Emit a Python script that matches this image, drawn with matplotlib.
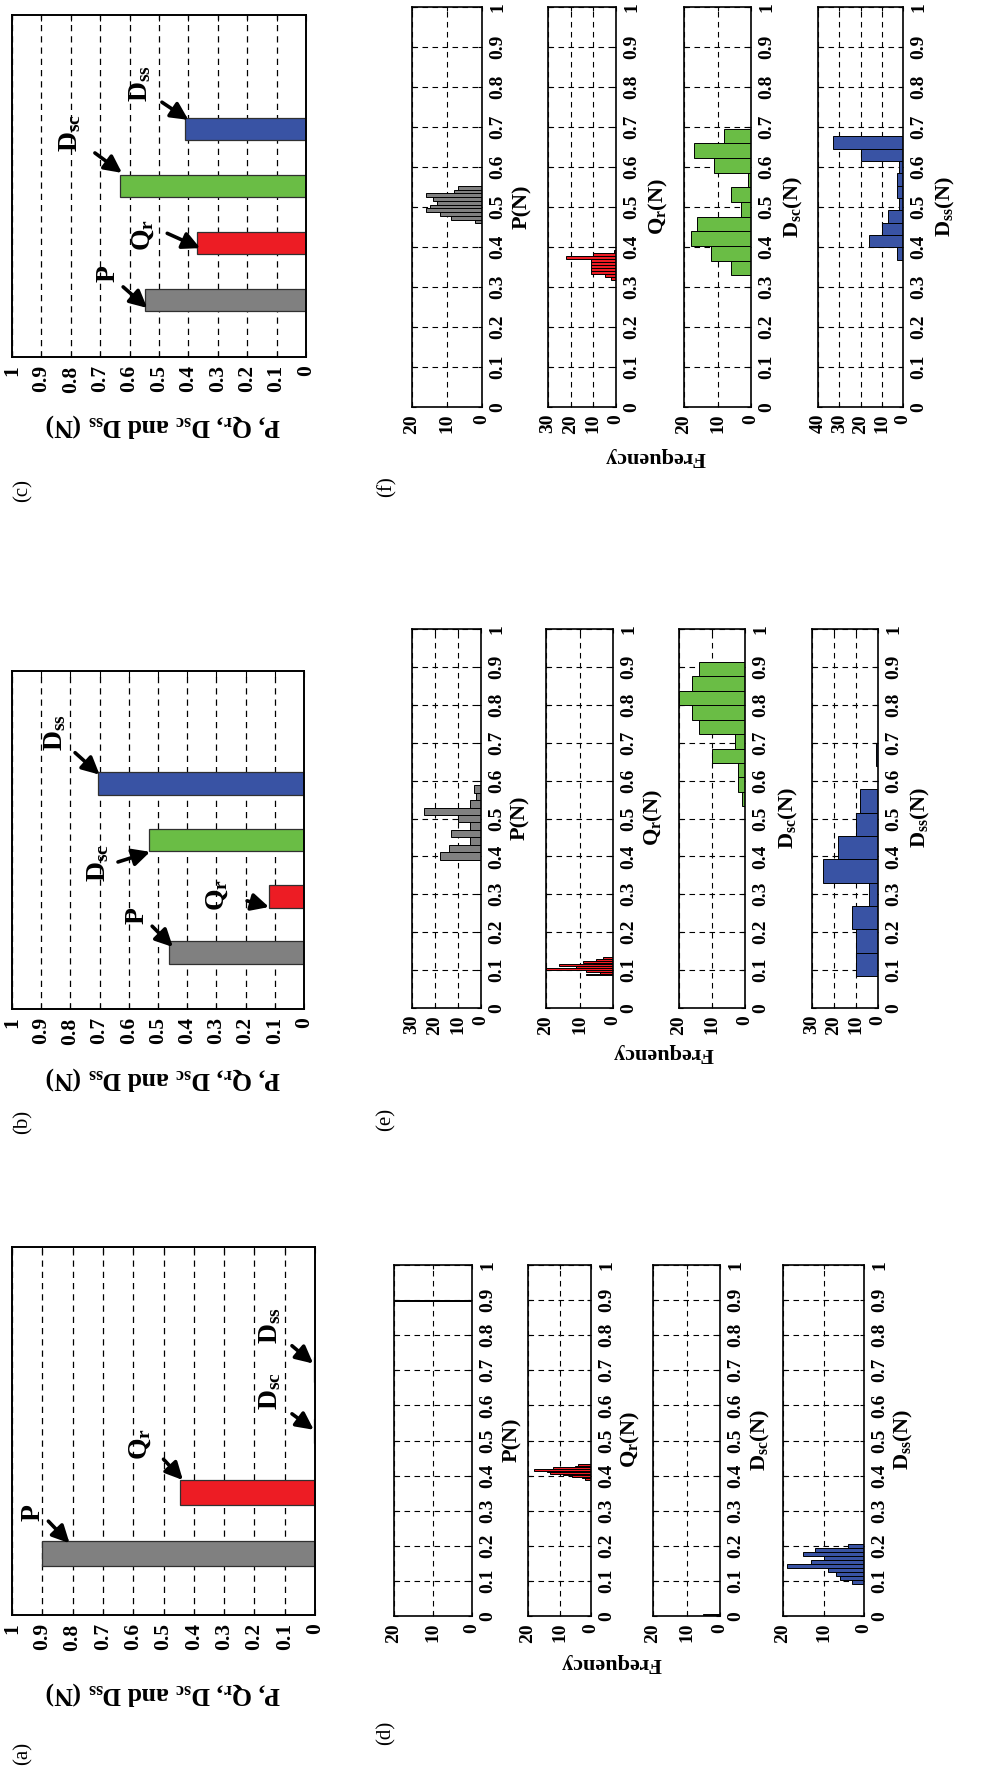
import numpy as np
import matplotlib
matplotlib.use("Agg")
import matplotlib.pyplot as plt

plt.rcParams['font.family'] = ['Liberation Serif', 'DejaVu Serif']
plt.rcParams['mathtext.fontset'] = 'custom'
plt.rcParams['mathtext.rm'] = 'Liberation Serif'
plt.rcParams['mathtext.bf'] = 'Liberation Serif:bold'
plt.rcParams['mathtext.it'] = 'Liberation Serif:italic'

# ============================================================
# Data
# ============================================================
categories = ['P', r'Q$_{\mathbf{r}}$', r'D$_{\mathbf{sc}}$', r'D$_{\mathbf{ss}}$']
cat_pos = [1, 2, 3, 4]
colors = ['#808080', '#ed1c24', '#6abd45', '#3953a4']

# mean forces (N) for panels (a), (b), (c)
forces_a = [0.90, 0.445, 0.003, 0.003]
forces_b = [0.462, 0.119, 0.532, 0.704]
forces_c = [0.546, 0.371, 0.632, 0.411]

# label anchors (value, category) for the arrows: text, tail, head
text_a = [(0.93, 1.67), (0.578, 2.79), (0.149, 3.66), (0.149, 4.72)]
tail_a = [(0.88, 1.53), (0.50, 2.54), (0.076, 3.28), (0.076, 4.39)]
head_a = [(0.81, 1.17), (0.436, 2.20), (0.004, 3.02), (0.006, 4.10)]

text_b = [(0.572, 1.66), (0.298, 2.02), (0.705, 2.60), (0.853, 4.90)]
tail_b = [(0.52, 1.47), (0.195, 1.92), (0.637, 2.61), (0.784, 4.55)]
head_b = [(0.449, 1.10), (0.12, 1.81), (0.527, 2.79), (0.70, 4.16)]

text_c = [(0.673, 1.47), (0.554, 2.14), (0.803, 3.93), (0.565, 4.80)]
tail_c = [(0.622, 1.23), (0.472, 2.17), (0.718, 3.58), (0.49, 4.47)]
head_c = [(0.54, 0.86), (0.36, 1.91), (0.626, 3.23), (0.40, 4.16)]

# histograms: bin range (lo, hi) and 10 bin counts
d_P_range, d_P_counts = (0.897, 0.901), [2, 5, 9, 14, 21, 18, 13, 9, 6, 3]
d_Qr_range, d_Qr_counts = (0.388, 0.432), [2, 3, 6, 9, 13, 14, 18, 12, 5, 4]
d_Dsc_range, d_Dsc_counts = (0.0, 0.006), [17, 4, 3, 2, 2, 3, 2, 5, 3, 2]
d_Dss_range, d_Dss_counts = (0.092, 0.205), [3, 6, 7, 9, 19, 13, 10, 15, 12, 4]

e_P_range, e_P_counts = (0.391, 0.588), [18, 14, 5, 13, 5, 10, 25, 5, 2, 3]
e_Qr_range, e_Qr_counts = (0.086, 0.134), [8, 4, 8, 20, 11, 16, 6, 9, 5, 3]
e_Dsc_range, e_Dsc_counts = (0.532, 0.913), [1, 2, 2, 10, 3, 14, 16, 20, 16, 14]
e_Dss_range, e_Dss_counts = (0.084, 0.700), [10, 10, 12, 4, 25, 18, 10, 8, 0, 1]

f_P_range, f_P_counts = (0.459, 0.553), [2, 9, 12, 16, 15, 13, 14, 16, 8, 7]
f_Qr_range, f_Qr_counts = (0.318, 0.392), [2, 5, 11, 11, 11, 11, 11, 22, 10, 1]
f_Dsc_range, f_Dsc_counts = (0.329, 0.696), [6, 12, 18, 16, 3, 6, 1, 11, 17, 8]
f_Dss_range, f_Dss_counts = (0.368, 0.677), [3, 16, 10, 7, 2, 3, 3, 2, 20, 33]

freq_max_d = [20, 20, 20, 20]
freq_max_e = [30, 20, 20, 30]
freq_max_f = [20, 30, 20, 40]

hist_labels = ['P(N)', r'Q$_{\mathbf{r}}$(N)', r'D$_{\mathbf{sc}}$(N)', r'D$_{\mathbf{ss}}$(N)']
value_label = r'P, Q$_{\mathbf{r}}$, D$_{\mathbf{sc}}$ and D$_{\mathbf{ss}}$ (N)'

# ============================================================
# Layout (the figure is a landscape plate turned a quarter turn)
# ============================================================
W, H = 985, 1782
fig = plt.figure(figsize=(W / 100, H / 100), dpi=100)


def add_ax(l, r, t, b):
    return fig.add_axes([l / W, 1 - b / H, (r - l) / W, (b - t) / H])


def ftext(x, y, s, **kw):
    fig.text(x / W, 1 - y / H, s, **kw)


ticks01 = np.round(np.arange(0, 1.01, 0.1), 1)
tick_lbls = ['%g' % t for t in ticks01]


def bar_panel(box, forces, texts, tails, heads):
    ax = add_ax(*box)
    ax.barh(cat_pos, forces, height=0.4, color=colors, edgecolor='#303030', lw=0.9, zorder=2)
    ax.set_xlim(1, 0)
    ax.set_ylim(0, 6)
    ax.set_yticks([])
    ax.set_xticks(ticks01)
    ax.set_xticklabels(tick_lbls, rotation=90, fontsize=15.5, fontweight='bold')
    ax.tick_params(axis='x', direction='in', top=True, length=4, pad=6)
    ax.grid(axis='x', ls=(0, (5, 4)), color='k', lw=0.9, zorder=0)
    ax.set_axisbelow(True)
    for sp in ax.spines.values():
        sp.set_linewidth(1.4)
    for lbl, t, tl, hd in zip(categories, texts, tails, heads):
        ax.text(t[0], t[1], lbl, rotation=90, ha='center', va='center',
                fontsize=20, fontweight='bold', zorder=4)
        ax.annotate('', xy=hd, xytext=tl,
                    arrowprops=dict(arrowstyle='-|>,head_length=0.8,head_width=0.4',
                                    color='k', lw=2.6, mutation_scale=13,
                                    shrinkA=0, shrinkB=0), zorder=5)
    return ax


def hist_ax(box, rng, counts, color, fmax):
    ax = add_ax(*box)
    edges = np.linspace(rng[0], rng[1], len(counts) + 1)
    centers = (edges[:-1] + edges[1:]) / 2
    ax.barh(centers, counts, height=edges[1] - edges[0], color=color,
            edgecolor='k', lw=0.7, zorder=2)
    ax.set_xlim(fmax, 0)
    ax.set_ylim(0, 1)
    ax.set_xticks(np.arange(0, fmax + 1, 10))
    ax.set_xticklabels(['%d' % v for v in np.arange(0, fmax + 1, 10)],
                       rotation=90, fontsize=14, fontweight='bold')
    ax.set_yticks(ticks01)
    ax.yaxis.tick_right()
    ax.set_yticklabels(tick_lbls, rotation=90, va='center', fontsize=14, fontweight='bold')
    ax.tick_params(axis='x', direction='in', top=True, bottom=True, length=3, pad=5)
    ax.tick_params(axis='y', direction='in', left=True, right=True, length=3, pad=5)
    ax.grid(True, ls=(0, (5, 4)), color='k', lw=0.8, zorder=0)
    ax.set_axisbelow(True)
    for sp in ax.spines.values():
        sp.set_linewidth(1.2)
    return ax


# ---- bar panels (a), (b), (c)
bar_panel((12, 315, 1247, 1615), forces_a, text_a, tail_a, head_a)
bar_panel((12, 304, 671, 1009), forces_b, text_b, tail_b, head_b)
bar_panel((12, 306, 15, 357), forces_c, text_c, tail_c, head_c)

for yc in [1693, 1078, 425]:
    ftext(163, yc, value_label, rotation=180, ha='center', va='center',
          fontsize=18.5, fontweight='bold')

# ---- histogram panels (d), (e), (f)
hist_sets = [
    (1265, 1616, [(394, 472), (528, 591), (653, 720), (783, 864)],
     [d_P_range, d_Qr_range, d_Dsc_range, d_Dss_range],
     [d_P_counts, d_Qr_counts, d_Dsc_counts, d_Dss_counts], freq_max_d,
     [512, 630, 760, 903], 1440, (611, 1663)),
    (629, 1008, [(412, 481), (546, 613), (679, 745), (812, 878)],
     [e_P_range, e_Qr_range, e_Dsc_range, e_Dss_range],
     [e_P_counts, e_Qr_counts, e_Dsc_counts, e_Dss_counts], freq_max_e,
     [520, 653, 788, 920], 818, (663, 1053)),
    (7, 407, [(412, 482), (548, 616), (684, 751), (818, 903)],
     [f_P_range, f_Qr_range, f_Dsc_range, f_Dss_range],
     [f_P_counts, f_Qr_counts, f_Dsc_counts, f_Dss_counts], freq_max_f,
     [522, 658, 793, 945], 207, (655, 457)),
]

for top, bot, xs, rngs, cnts, fmaxs, lx, ly, fpos in hist_sets:
    for (l, r), rng, c, col, fm, x_lab, lab in zip(xs, rngs, cnts, colors, fmaxs, lx, hist_labels):
        hist_ax((l, r, top, bot), rng, c, col, fm)
        ftext(x_lab, ly, lab, rotation=90, ha='center', va='center',
              fontsize=16, fontweight='bold')
    ftext(fpos[0], fpos[1], 'Frequency', rotation=180, ha='center', va='center',
          fontsize=16, fontweight='bold')

# ---- panel letters
for s, x, y in [('(a)', 23, 1753), ('(b)', 23, 1122), ('(c)', 23, 490),
                ('(d)', 386, 1733), ('(e)', 386, 1119), ('(f)', 387, 487)]:
    ftext(x, y, s, rotation=90, ha='center', va='center', fontsize=15)

plt.savefig("out.png", dpi=100)
